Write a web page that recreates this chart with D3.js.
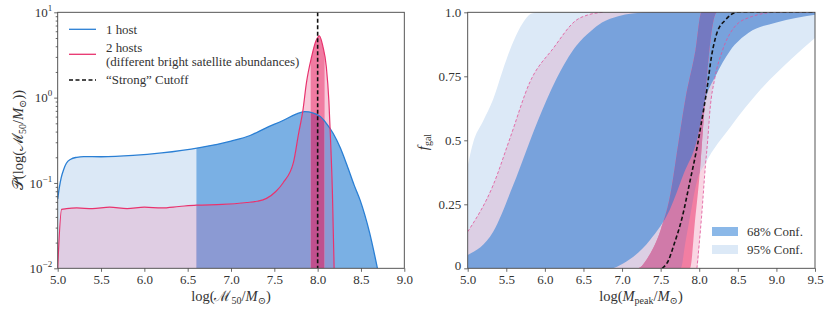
<!DOCTYPE html>
<html>
<head>
<meta charset="utf-8">
<script src="https://cdn.jsdelivr.net/npm/d3@7"></script>
<style>
body { margin: 0; background: #fff; }
text { font-family: "Liberation Serif", "DejaVu Serif", serif; fill: #333; }
.tick line { stroke: #444; stroke-width: 0.8; }
</style>
</head>
<body>
<svg id="chart" width="830" height="312"></svg>
<script>
// ---- left panel: P(log M50) ----
let oneHost = [[5.0,0.065],[5.02,0.09],[5.04,0.115],[5.07,0.145],[5.1,0.17],[5.15,0.19],[5.22,0.2],[5.3,0.204],
  [5.5,0.203],[5.87,0.21],[6.2,0.225],[6.64,0.26],[7.0,0.31],[7.22,0.36],[7.4,0.44],[7.6,0.54],[7.75,0.64],
  [7.85,0.685],[7.95,0.66],[8.03,0.6],[8.1,0.5],[8.18,0.38],[8.26,0.26],[8.34,0.16],[8.42,0.095],[8.49,0.063],
  [8.6,0.026],[8.69,0.01]];
let twoHosts = [[5.0,0.01],[5.045,0.049],[5.1,0.05],[5.22,0.051],[5.4,0.05],[5.6,0.052],[5.8,0.05],[6.0,0.052],
  [6.2,0.051],[6.4,0.053],[6.6,0.055],[6.9,0.056],[7.18,0.059],[7.3,0.061],[7.41,0.066],[7.52,0.08],[7.6,0.1],
  [7.72,0.173],[7.78,0.38],[7.83,0.71],[7.87,1.48],[7.93,3.0],[7.98,4.6],[8.02,5.3],[8.06,4.0],[8.1,2.3],
  [8.13,0.9],[8.15,0.3],[8.17,0.08],[8.19,0.01]];
let cutoffLeft = 8.0;
let oneHostSplit = 6.6;
let twoHostCore = [7.92, 8.08];
let leftXTicks = [5.0, 5.5, 6.0, 6.5, 7.0, 7.5, 8.0, 8.5, 9.0];
let leftYTicks = [0.01, 0.1, 1, 10];

// ---- right panel: f_gal(M_peak) bands ----
let blue95Upper = [[5.0,0.40],[5.07,0.49],[5.2,0.575],[5.33,0.66],[5.45,0.77],[5.57,0.87],[5.66,0.93],[5.74,0.97],[5.83,0.995],[5.95,1.0],[9.5,1.0]];
let blue95Lower = [[5.0,0],[7.76,0],[7.82,0.1],[7.88,0.2],[7.97,0.34],[8.08,0.41],[8.4,0.55],[8.8,0.7],[9.2,0.82],[9.5,0.9]];
let blue68Upper = [[5.0,0.052],[5.33,0.143],[5.59,0.325],[5.9,0.57],[6.15,0.74],[6.41,0.87],[6.59,0.925],[6.74,0.96],[6.95,0.985],[7.13,0.995],[7.4,1.0],[9.5,1.0]];
let blue68Lower = [[5.0,0],[6.85,0],[7.02,0.02],[7.36,0.11],[7.62,0.23],[7.8,0.37],[7.97,0.5],[8.08,0.66],[8.21,0.75],[8.4,0.85],[8.64,0.92],[9.0,0.96],[9.5,0.99]];
let pink95Upper = [[5.0,0.143],[5.33,0.325],[5.55,0.51],[5.81,0.73],[6.11,0.86],[6.41,0.97],[6.56,0.99],[6.75,1.0],[9.5,1.0]];
let pink95Lower = [[5.0,0],[7.97,0],[8.03,0.2],[8.08,0.4],[8.11,0.5],[8.14,0.62],[8.2,0.74],[8.3,0.85],[8.45,0.94],[8.65,0.98],[9.0,1.0],[9.5,1.0]];
let pink68Upper = [[5.0,0],[7.2,0],[7.35,0.05],[7.5,0.15],[7.62,0.28],[7.73,0.49],[7.82,0.66],[7.95,0.85],[8.03,1.0],[9.5,1.0]];
let pink68Lower = [[5.0,0],[7.88,0],[7.95,0.2],[8.0,0.35],[8.05,0.55],[8.1,0.75],[8.15,0.9],[8.23,1.0],[9.5,1.0]];
let strongCutoff = [[7.52,0],[7.6,0.03],[7.67,0.09],[7.78,0.2],[7.88,0.34],[7.97,0.47],[8.04,0.59],[8.1,0.7],[8.16,0.83],[8.23,0.92],[8.34,0.97],[8.49,1.0],[9.5,1.0]];
let rightXTicks = [5.0, 5.5, 6.0, 6.5, 7.0, 7.5, 8.0, 8.5, 9.0, 9.5];
let rightYTicks = [0, 0.25, 0.5, 0.75, 1.0];
let rightYLabels = ["0", "0.25", "0.5", "0.75", "1.0"];

let svg = d3.select("#chart");
let defs = svg.append("defs");

let xL = d3.scaleLinear().domain([5, 9]).range([57.7, 404.3]);
let yL = d3.scaleLog().domain([0.01, 10]).range([268.3, 12.3]);
let xR = d3.scaleLinear().domain([5, 9.5]).range([467.7, 815]);
let yR = d3.scaleLinear().domain([0, 1]).range([268.3, 12.3]);

function addClip(id, path) {
  defs.append("clipPath").attr("id", id).append("path").attr("d", path);
}
function rectPath(x0, y0, x1, y1) {
  return "M" + x0 + "," + y0 + "H" + x1 + "V" + y1 + "H" + x0 + "Z";
}

// ============ LEFT PANEL ============
let areaL = d3.area().x(d => xL(d[0])).y0(yL(0.01)).y1(d => yL(d[1])).curve(d3.curveMonotoneX);
let lineL = d3.line().x(d => xL(d[0])).y(d => yL(d[1])).curve(d3.curveMonotoneX);

addClip("clipL", rectPath(xL(5), yL(10), xL(9), yL(0.01)));
addClip("blueArea", areaL(oneHost));
addClip("lowX", rectPath(0, 0, xL(oneHostSplit), 312));
addClip("midX", rectPath(xL(oneHostSplit), 0, xL(twoHostCore[0]), 312));
addClip("coreX", rectPath(xL(twoHostCore[0]), 0, xL(twoHostCore[1]), 312));
addClip("highX", rectPath(xL(twoHostCore[1]), 0, 420, 312));
addClip("rightOfSplit", rectPath(xL(oneHostSplit), 0, 420, 312));

let gL = svg.append("g").attr("clip-path", "url(#clipL)");
gL.append("path").attr("d", areaL(oneHost)).attr("fill", "#dbe8f6").attr("clip-path", "url(#lowX)");
gL.append("path").attr("d", areaL(oneHost)).attr("fill", "#7ab0e4").attr("clip-path", "url(#rightOfSplit)");
// two hosts fill where it sits above the 1-host curve
gL.append("path").attr("d", areaL(twoHosts)).attr("fill", "#f8c9da");
gL.append("path").attr("d", areaL(twoHosts)).attr("fill", "#f07ba1").attr("clip-path", "url(#coreX)");
// two hosts fill on top of the 1-host fill
let inBlue = gL.append("g").attr("clip-path", "url(#blueArea)");
inBlue.append("path").attr("d", areaL(twoHosts)).attr("fill", "#dfcde3").attr("clip-path", "url(#lowX)");
inBlue.append("path").attr("d", areaL(twoHosts)).attr("fill", "#8b9ad3").attr("clip-path", "url(#midX)");
inBlue.append("path").attr("d", areaL(twoHosts)).attr("fill", "#c0508e").attr("clip-path", "url(#coreX)");
inBlue.append("path").attr("d", areaL(twoHosts)).attr("fill", "#8b9ad3").attr("clip-path", "url(#highX)");

gL.append("path").attr("d", lineL(oneHost)).attr("fill", "none").attr("stroke", "#2a7fd4").attr("stroke-width", 1.3);
gL.append("path").attr("d", lineL(twoHosts)).attr("fill", "none").attr("stroke", "#e8336e").attr("stroke-width", 1.2);
gL.append("line").attr("x1", xL(cutoffLeft)).attr("x2", xL(cutoffLeft)).attr("y1", yL(10)).attr("y2", yL(0.01))
  .attr("stroke", "#111").attr("stroke-width", 1.6).attr("stroke-dasharray", "4,2.5");

// axes left
svg.append("g").attr("transform", "translate(0," + yL(0.01) + ")")
  .call(d3.axisBottom(xL).tickValues(leftXTicks).tickFormat(d3.format(".1f")).tickSize(3.5).tickPadding(3));
let minorL = [];
[0.01, 0.1, 1].forEach(function(b) { for (let k = 2; k <= 9; k++) minorL.push(b * k); });
svg.append("g").attr("transform", "translate(" + xL(5) + ",0)")
  .call(d3.axisLeft(yL).tickValues(minorL).tickFormat("").tickSize(2));
let ayL = svg.append("g").attr("transform", "translate(" + xL(5) + ",0)")
  .call(d3.axisLeft(yL).tickValues(leftYTicks).tickSize(3.5).tickPadding(2));
ayL.selectAll(".tick text").each(function(d) {
  let e = Math.round(Math.log10(d));
  let t = d3.select(this).text("10");
  t.append("tspan").attr("dy", -6).attr("font-size", 9).text(e < 0 ? "\u2212" + (-e) : e);
});

svg.append("rect").attr("x", xL(5)).attr("y", yL(10)).attr("width", xL(9) - xL(5)).attr("height", yL(0.01) - yL(10))
  .attr("fill", "none").attr("stroke", "#444").attr("stroke-width", 0.9);

// legend left
let legL = [
  {y: 29.3, color: "#2a7fd4", dash: null},
  {y: 54.3, color: "#e8336e", dash: null},
  {y: 80, color: "#111", dash: "4,2.5"}
];
legL.forEach(function(l) {
  svg.append("line").attr("x1", 69).attr("x2", 96).attr("y1", l.y).attr("y2", l.y)
    .attr("stroke", l.color).attr("stroke-width", l.dash ? 1.6 : 1.3).attr("stroke-dasharray", l.dash);
});
let legTexts = [["1 host", 33.5], ["2 hosts", 51.5], ["(different bright satellite abundances)", 65.5], ["\u201cStrong\u201d Cutoff", 84]];
legTexts.forEach(function(t) {
  svg.append("text").attr("x", 106).attr("y", t[1]).attr("font-size", 12.9).text(t[0]);
});

// axis labels left
let xlabL = svg.append("text").attr("x", 231).attr("y", 301).attr("text-anchor", "middle").attr("font-size", 14.5);
xlabL.append("tspan").text("log(\u2133");
xlabL.append("tspan").attr("dy", 3).attr("font-size", 10).text("50");
xlabL.append("tspan").attr("dy", -3).text("/");
xlabL.append("tspan").attr("font-style", "italic").text("M");
xlabL.append("tspan").attr("dy", 3).attr("font-size", 10).text("\u2299");
xlabL.append("tspan").attr("dy", -3).text(")");

let ylabL = svg.append("text").attr("transform", "translate(23,140) rotate(-90)").attr("text-anchor", "middle").attr("font-size", 14.5);
ylabL.append("tspan").text("\ud835\udcab(log(\u2133");
ylabL.append("tspan").attr("dy", 3).attr("font-size", 10).text("50");
ylabL.append("tspan").attr("dy", -3).text("/");
ylabL.append("tspan").attr("font-style", "italic").text("M");
ylabL.append("tspan").attr("dy", 3).attr("font-size", 10).text("\u2299");
ylabL.append("tspan").attr("dy", -3).text("))");

// ============ RIGHT PANEL ============
let lineR = d3.line().x(d => xR(d[0])).y(d => yR(d[1])).curve(d3.curveMonotoneX);
function bandPath(upper, lower) {
  let a = lineR(upper);
  let b = lineR(lower.slice().reverse());
  return a + "L" + b.slice(1) + "Z";
}
// only the visible part of a bound: drop the flat run along f = 0
function dropFloor(c) {
  let i = 0;
  while (i < c.length - 1 && c[i + 1][1] == 0) i++;
  return c.slice(i);
}
// and the flat run along f = 1
function dropCeil(c) {
  let i = c.findIndex(d => d[1] >= 1);
  return i < 0 ? c : c.slice(0, i + 1);
}

addClip("clipR", rectPath(xR(5), yR(1), xR(9.5), yR(0)));
addClip("blue95", bandPath(blue95Upper, blue95Lower));
addClip("blue68", bandPath(blue68Upper, blue68Lower));

let gR = svg.append("g").attr("clip-path", "url(#clipR)");
gR.append("path").attr("d", bandPath(blue95Upper, blue95Lower)).attr("fill", "#dce9f7");
gR.append("path").attr("d", bandPath(pink95Upper, pink95Lower)).attr("fill", "#f9d6e3");
gR.append("path").attr("d", bandPath(pink95Upper, pink95Lower)).attr("fill", "#dccfe4").attr("clip-path", "url(#blue95)");
gR.append("path").attr("d", bandPath(blue68Upper, blue68Lower)).attr("fill", "#78a2dc");
gR.append("path").attr("d", bandPath(pink68Upper, pink68Lower)).attr("fill", "#f27ea2");
gR.append("path").attr("d", bandPath(pink68Upper, pink68Lower)).attr("fill", "#d07aa9").attr("clip-path", "url(#blue95)");
gR.append("path").attr("d", bandPath(pink68Upper, pink68Lower)).attr("fill", "#7479c1").attr("clip-path", "url(#blue68)");

[dropCeil(pink95Upper), dropFloor(pink95Lower)].forEach(function(c) {
  gR.append("path").attr("d", lineR(c)).attr("fill", "none").attr("stroke", "#e0559a").attr("stroke-opacity", 0.8)
    .attr("stroke-width", 1).attr("stroke-dasharray", "3,2");
});
gR.append("path").attr("d", lineR(strongCutoff)).attr("fill", "none").attr("stroke", "#111")
  .attr("stroke-width", 1.6).attr("stroke-dasharray", "4,2.5");

svg.append("g").attr("transform", "translate(0," + yR(0) + ")")
  .call(d3.axisBottom(xR).tickValues(rightXTicks).tickFormat(d3.format(".1f")).tickSize(3.5).tickPadding(3));
let ayR = svg.append("g").attr("transform", "translate(" + xR(5) + ",0)")
  .call(d3.axisLeft(yR).tickValues(rightYTicks).tickFormat((d, i) => rightYLabels[i]).tickSize(3.5).tickPadding(3));
// lift the "0" a little so it clears the "5.0" below it
ayR.selectAll(".tick text").filter(d => d == 0).attr("dy", "0.12em");

svg.append("rect").attr("x", xR(5)).attr("y", yR(1)).attr("width", xR(9.5) - xR(5)).attr("height", yR(0) - yR(1))
  .attr("fill", "none").attr("stroke", "#444").attr("stroke-width", 0.9);

// legend right
let legR = [["68% Conf.", "#8bb8e8", 227], ["95% Conf.", "#dce9f7", 245]];
legR.forEach(function(l) {
  svg.append("rect").attr("x", 712).attr("y", l[2]).attr("width", 26).attr("height", 9).attr("fill", l[1]);
  svg.append("text").attr("x", 747).attr("y", l[2] + 9).attr("font-size", 12.9).text(l[0]);
});

let xlabR = svg.append("text").attr("x", 641).attr("y", 301).attr("text-anchor", "middle").attr("font-size", 14.5);
xlabR.append("tspan").text("log(");
xlabR.append("tspan").attr("font-style", "italic").text("M");
xlabR.append("tspan").attr("dy", 3).attr("font-size", 10).text("peak");
xlabR.append("tspan").attr("dy", -3).text("/");
xlabR.append("tspan").attr("font-style", "italic").text("M");
xlabR.append("tspan").attr("dy", 3).attr("font-size", 10).text("\u2299");
xlabR.append("tspan").attr("dy", -3).text(")");

let ylabR = svg.append("text").attr("transform", "translate(428,142) rotate(-90)").attr("text-anchor", "middle").attr("font-size", 14.5);
ylabR.append("tspan").attr("font-style", "italic").text("f");
ylabR.append("tspan").attr("dy", 3).attr("font-size", 10).text("gal");

// axis text style
svg.selectAll(".tick text").attr("font-size", 13).attr("fill", "#333").attr("font-family", "Liberation Serif, DejaVu Serif, serif");
svg.selectAll(".domain").remove();
</script>
</body>
</html>
